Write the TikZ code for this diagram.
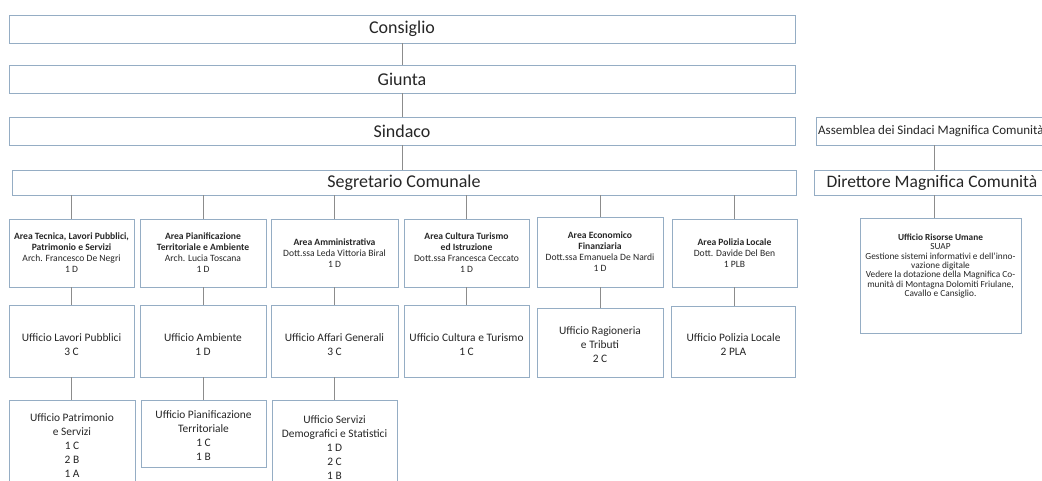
\documentclass[tikz,border=0pt]{standalone}
\usepackage{fontspec}
\setmainfont{Carlito}
\definecolor{boxline}{HTML}{95ADC4}
\definecolor{conn}{HTML}{8C8C8C}
\newcommand\mytightls{\lineskiplimit=-5pt\relax}
\begin{document}
\begin{tikzpicture}[x=1pt,y=-1pt,
  box/.style={draw=boxline, line width=0.9pt, fill=white, inner sep=1pt, align=center, text=black!85},
  big/.style={box, font=\fontsize{18}{20}\selectfont},
  area/.style={box, minimum height=68pt, font=\fontsize{9.6}{11}\selectfont},
  uff/.style={box, font=\fontsize{11.4}{14}\selectfont},
  txt/.style={align=center, text=black!85, inner sep=0pt},
  link/.style={draw=conn, line width=0.7pt}]
\useasboundingbox (0,0) rectangle (1042,481);

% top chain
\node[big, minimum width=786pt, minimum height=28pt] (cons) at (402,29) {Consiglio};
\node[big, minimum width=786pt, minimum height=28pt] (giu) at (402,79) {Giunta};
\node[big, minimum width=786pt, minimum height=28pt] (sind) at (402,131) {Sindaco};
\node[big, minimum width=784pt, minimum height=25pt] (seg) at (404,182.5) {Segretario Comunale};

% areas
\node[area, minimum width=125pt] (a1) at (71.5,253) {\textbf{Area Tecnica, Lavori Pubblici,}\\\textbf{Patrimonio e Servizi}\\Arch. Francesco De Negri\\1 D};
\node[area, minimum width=126pt] (a2) at (203,253) {\textbf{Area Pianificazione}\\\textbf{Territoriale e Ambiente}\\Arch. Lucia Toscana\\1 D};
\node[area, minimum width=127pt] (a3) at (334.5,253) {\textbf{Area Amministrativa}\\Dott.ssa Leda Vittoria Biral\\1 D};
\node[area, minimum width=125pt] (a4) at (466.5,253) {\textbf{Area Cultura Turismo}\\\textbf{ed Istruzione}\\Dott.ssa Francesca Ceccato\\1 D};
\node[area, minimum width=126pt, minimum height=70pt] (a5) at (600,252) {\textbf{Area Economico}\\\textbf{Finanziaria}\\Dott.ssa Emanuela De Nardi\\1 D};
\node[area, minimum width=125pt] (a6) at (734.5,253) {\textbf{Area Polizia Locale}\\Dott. Davide Del Ben\\1 PLB};

% second row
\node[uff, minimum width=125pt, minimum height=72pt] (u1) at (71.5,341) {};
\node[txt, font=\fontsize{11.4}{14}\selectfont] (u1t) at (71.5,345) {Ufficio Lavori Pubblici\\3 C};
\node[uff, minimum width=126pt, minimum height=72pt] (u2) at (203,341) {};
\node[txt, font=\fontsize{11.4}{14}\selectfont] (u2t) at (203,345) {Ufficio Ambiente\\1 D};
\node[uff, minimum width=127pt, minimum height=72pt] (u3) at (334.5,341) {};
\node[txt, font=\fontsize{11.4}{14}\selectfont] (u3t) at (334.5,345) {Ufficio Affari Generali\\3 C};
\node[uff, minimum width=125pt, minimum height=72pt] (u4) at (466.5,341) {};
\node[txt, font=\fontsize{11.4}{14}\selectfont] (u4t) at (466.5,345) {Ufficio Cultura e Turismo\\1 C};
\node[uff, minimum width=126pt, minimum height=69pt] (u5) at (600,342.5) {};
\node[txt, font=\fontsize{11.4}{14}\selectfont] (u5t) at (600,344.5) {Ufficio Ragioneria\\e Tributi\\2 C};
\node[uff, minimum width=124pt, minimum height=71pt] (u6) at (733.5,341.5) {};
\node[txt, font=\fontsize{11.4}{14}\selectfont] (u6t) at (733.5,345) {Ufficio Polizia Locale\\2 PLA};

% third row
\node[uff, minimum width=126pt, minimum height=94pt] (v1) at (72,447) {};
\node[txt, font=\fontsize{11.4}{14}\selectfont] (v1t) at (72,446) {Ufficio Patrimonio\\e Servizi\\1 C\\2 B\\1 A};
\node[uff, minimum width=125pt, minimum height=67pt] (v2) at (203.5,434) {};
\node[txt, font=\fontsize{11.4}{14}\selectfont] (v2t) at (203.5,436) {Ufficio Pianificazione\\Territoriale\\1 C\\1 B};
\node[uff, minimum width=125pt, minimum height=94pt] (v3) at (334.5,447) {};
\node[txt, font=\fontsize{11.4}{14}\selectfont] (v3t) at (334.5,447.5) {Ufficio Servizi\\Demografici e Statistici\\1 D\\2 C\\1 B};

% Magnifica Comunita branch
\node[box, minimum width=244pt, minimum height=28pt] (ass) at (938,131) {};
\node[txt, anchor=west, font=\fontsize{13}{15}\selectfont] (asst) at (818,131) {Assemblea dei Sindaci Magnifica Comunità};
\node[big, minimum width=236pt, minimum height=25pt, font=\fontsize{17.5}{20}\selectfont] (dir) at (932,182.5) {Direttore Magnifica Comunità};
\node[box, minimum width=161pt, minimum height=115pt] (ris) at (940.5,275.5) {};
\node[txt, font=\fontsize{9.3}{9.3}\selectfont\mytightls] (rist) at (940.5,266) {\textbf{Ufficio Risorse Umane}\\SUAP\\Gestione sistemi informativi e dell'inno-\\vazione digitale\\Vedere la dotazione della Magnifica Co-\\munità di Montagna Dolomiti Friulane,\\Cavallo e Cansiglio.};
\coordinate (mk) at (934,0);

% connectors
\draw[link] (cons.south) -- (giu.north);
\draw[link] (giu.south) -- (sind.north);
\draw[link] (sind.south) -- (sind.south |- seg.north);
\foreach \a/\b in {a1/u1,a2/u2,a3/u3,a4/u4,a5/u5,a6/u6}{
  \draw[link] (seg.south -| \a.north) -- (\a.north);
  \draw[link] (\a.south) -- (\a.south |- \b.north);
}
\draw[link] (u1.south) -- (u1.south |- v1.north);
\draw[link] (u2.south) -- (u2.south |- v2.north);
\draw[link] (u3.south) -- (u3.south |- v3.north);
\draw[link] (ass.south -| mk) -- (dir.north -| mk);
\draw[link] (dir.south -| mk) -- (ris.north -| mk);
\end{tikzpicture}
\end{document}
